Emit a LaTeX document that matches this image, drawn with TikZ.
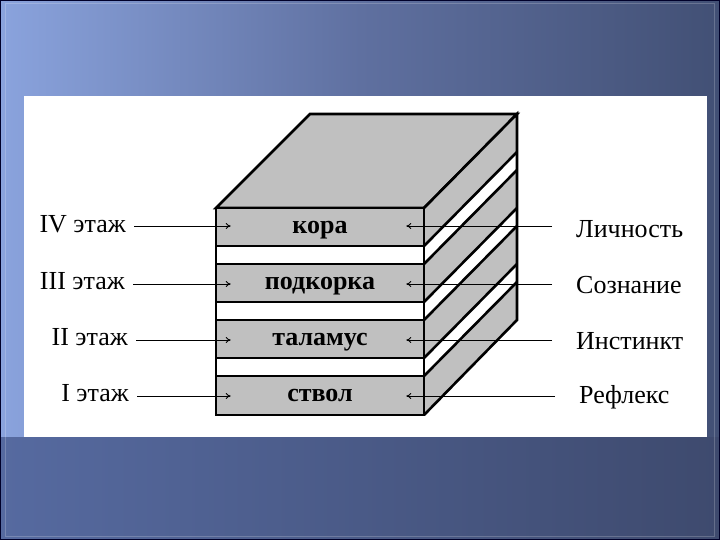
\documentclass[tikz,border=0pt]{standalone}
\usepackage{fontspec}
\setmainfont{Liberation Serif}
\usetikzlibrary{arrows.meta}
\definecolor{bgL}{HTML}{8AA3DD}
\definecolor{bgM}{HTML}{5F70A0}
\definecolor{bgR}{HTML}{425075}
\definecolor{botL}{HTML}{566AA0}
\definecolor{botR}{HTML}{3E4A6E}
\definecolor{cubegray}{HTML}{C0C0C0}
\tikzset{
  band/.style={draw=black, line width=2.6pt, fill=cubegray, minimum width=208pt, minimum height=38pt, inner sep=0pt, text depth=0pt, font=\fontsize{26}{26}\selectfont\bfseries},
  gap/.style={draw=black, line width=2.6pt, fill=white, minimum width=208pt, minimum height=18pt, inner sep=0pt},
  lbl/.style={font=\fontsize{26}{26}\selectfont, inner sep=0pt},
  arr/.style={line width=0.9pt, -{To[length=5pt,width=6pt]}},
  edge3/.style={line width=2.6pt, line join=miter},
}
\begin{document}
\begin{tikzpicture}[x=1pt,y=-1pt]
\useasboundingbox (0,0) rectangle (720,540);
% background
\shade[left color=bgL, right color=bgR, middle color=bgM] (0,0) rectangle (720,437);
\shade[left color=botL, right color=botR] (0,437) rectangle (720,540);
\draw[white, opacity=0.2, line width=1pt] (5,4) rectangle (714,536);
\draw[black!60!blue!40!black, line width=2pt] (0,0) rectangle (720,540);
% white panel
\fill[white] (24,96) rectangle (707,437);
% top face
\draw[edge3, fill=cubegray] (216,208) -- (310,114) -- (517,114) -- (424,208) -- cycle;
% right face
\fill[cubegray] (424,208) -- (517,114) -- (517,320) -- (424,415) -- cycle;
\foreach \a/\b in {246/264, 302/320, 358/376}{
  \fill[white] (424,\a) -- (517,\a-94) -- (517,\b-94) -- (424,\b) -- cycle;
  \draw[edge3] (424,\a) -- (517,\a-94);
  \draw[edge3] (424,\b) -- (517,\b-94);
}
\draw[edge3] (424,208) -- (517,114) -- (517,320) -- (424,415);
% front face
\node[band] (kora) at (320,227) {кора};
\node[gap] (g1) at (320,255) {};
\node[band] (podk) at (320,283) {подкорка};
\node[gap] (g2) at (320,311) {};
\node[band] (tala) at (320,339) {таламус};
\node[gap] (g3) at (320,367) {};
\node[band, minimum height=39pt] (stvol) at (320,395.5) {ствол};
\draw[edge3] (216,208) rectangle (424,415);
% left labels
\node[lbl, anchor=east] (l4) at (126,224) {IV этаж};
\node[lbl, anchor=east] (l3) at (125,281) {III этаж};
\node[lbl, anchor=east] (l2) at (128,337) {II этаж};
\node[lbl, anchor=east] (l1) at (129,393) {I этаж};
% right labels
\node[lbl, anchor=west] (r4) at (576,229) {Личность};
\node[lbl, anchor=west] (r3) at (576,285) {Сознание};
\node[lbl, anchor=west] (r2) at (576,341) {Инстинкт};
\node[lbl, anchor=west] (r1) at (579,397) {Рефлекс};
% arrows
\foreach \l/\b/\y in {l4/kora/226, l3/podk/284, l2/tala/340, l1/stvol/396}{
  \draw[arr] (\l.east |- 0,\y) ++(8,0) -- ([xshift=16pt]\b.west |- 0,\y);
}
\foreach \r/\b/\y in {r4/kora/226, r3/podk/284, r2/tala/340, r1/stvol/396}{
  \draw[arr] ([xshift=-24pt]\r.west |- 0,\y) -- ([xshift=-19pt]\b.east |- 0,\y);
}
\end{tikzpicture}
\end{document}
